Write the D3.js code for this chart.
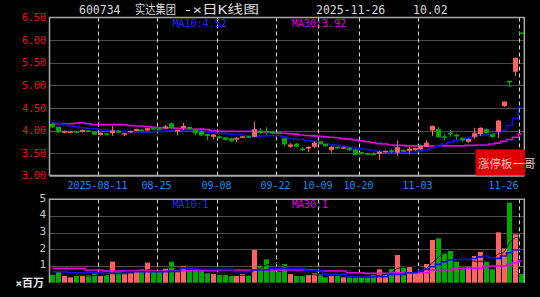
<!DOCTYPE html>
<html>
<head>
<meta charset="utf-8">
<script src="https://cdn.jsdelivr.net/npm/d3@7"></script>
<style>
html, body { margin: 0; padding: 0; background: #000; }
svg { display: block; }
text { font-family: "DejaVu Sans Mono", "Noto Sans CJK SC", monospace; }
</style>
</head>
<body>
<div id="container"></div>
<script>
// trading days shown (2025)
var days = ["07-30","07-31","08-01","08-04","08-05","08-06","08-07","08-08",
  "08-11","08-12","08-13","08-14","08-15","08-18","08-19","08-20","08-21","08-22",
  "08-25","08-26","08-27","08-28","08-29","09-01","09-02","09-03","09-04","09-05",
  "09-08","09-09","09-10","09-11","09-12","09-15","09-16","09-17","09-18","09-19",
  "09-22","09-23","09-24","09-25","09-26","09-29","09-30","10-09","10-10",
  "10-13","10-14","10-15","10-16","10-17","10-20","10-21","10-22","10-23","10-24",
  "10-27","10-28","10-29","10-30","10-31","11-03","11-04","11-05","11-06","11-07",
  "11-10","11-11","11-12","11-13","11-14","11-17","11-18","11-19","11-20","11-21",
  "11-24","11-25","11-26"];

var open = [4.15,4.08,3.95,3.95,3.98,3.97,4.00,3.97,3.90,3.94,
  3.94,4.00,3.91,3.96,3.99,4.02,4.00,4.05,4.05,4.04,
  4.16,3.98,4.05,4.08,4.01,3.99,3.92,3.86,3.87,3.85,
  3.83,3.80,3.85,3.87,3.86,4.00,3.99,3.97,3.96,3.83,
  3.64,3.71,3.60,3.60,3.64,3.76,3.70,3.57,3.64,3.60,
  3.62,3.58,3.52,3.50,3.49,3.48,3.52,3.56,3.51,3.57,
  3.55,3.57,3.58,3.64,4.00,4.03,3.87,3.95,3.91,3.83,
  3.75,3.86,3.92,4.03,3.92,3.97,4.54,5.10,5.30,6.17];
var close = [4.07,3.96,3.99,3.98,3.97,4.01,3.99,3.91,3.95,3.91,
  4.00,3.95,3.94,3.99,4.03,4.01,4.05,4.04,4.03,4.09,
  4.05,4.01,4.10,4.03,3.94,3.89,3.88,3.91,3.83,3.79,
  3.76,3.84,3.87,3.86,4.03,3.94,3.97,3.93,3.94,3.69,
  3.69,3.64,3.59,3.64,3.73,3.70,3.65,3.64,3.60,3.63,
  3.57,3.46,3.48,3.47,3.47,3.53,3.55,3.55,3.63,3.53,
  3.60,3.61,3.66,3.73,4.10,3.85,3.84,3.94,3.87,3.78,
  3.81,3.94,4.06,3.94,3.86,4.22,4.64,5.10,5.61,6.17];
var high = [4.17,4.09,4.00,3.99,3.99,4.02,4.01,3.98,3.96,3.95,
  4.10,4.01,3.95,4.00,4.04,4.03,4.06,4.06,4.06,4.12,
  4.17,4.02,4.17,4.09,4.02,4.00,3.93,3.92,3.88,3.86,
  3.84,3.85,3.88,3.88,4.19,4.05,4.07,3.99,3.97,3.84,
  3.72,3.72,3.64,3.65,3.76,3.77,3.71,3.65,3.65,3.64,
  3.63,3.59,3.53,3.51,3.52,3.55,3.56,3.59,3.78,3.58,
  3.64,3.62,3.67,3.78,4.11,4.08,3.92,4.02,3.93,3.85,
  3.82,4.06,4.07,4.05,3.94,4.24,4.64,5.10,5.61,6.17];
var low = [4.05,3.95,3.94,3.94,3.96,3.96,3.97,3.90,3.89,3.90,
  3.88,3.94,3.88,3.95,3.98,4.00,3.99,4.02,4.02,4.03,
  4.03,3.89,4.01,4.02,3.90,3.88,3.78,3.80,3.82,3.78,
  3.74,3.74,3.84,3.84,3.85,3.92,3.90,3.91,3.92,3.65,
  3.62,3.63,3.55,3.52,3.61,3.69,3.64,3.51,3.59,3.59,
  3.55,3.45,3.46,3.45,3.45,3.35,3.51,3.50,3.44,3.52,
  3.50,3.55,3.57,3.63,3.88,3.84,3.78,3.86,3.80,3.75,
  3.73,3.82,3.88,3.93,3.83,3.83,4.52,4.96,5.20,6.17];

// moving averages as drawn
var ma10 = [4.17,4.16,4.13,4.10,4.08,4.06,4.05,4.04,4.02,4.01,
  4.00,3.99,3.98,3.97,3.97,3.96,3.96,3.97,3.98,3.99,
  4.00,4.01,4.01,4.01,4.00,3.99,3.97,3.96,3.94,3.93,
  3.92,3.91,3.90,3.88,3.87,3.87,3.88,3.89,3.89,3.86,
  3.83,3.81,3.80,3.78,3.76,3.74,3.71,3.69,3.67,3.65,
  3.63,3.61,3.60,3.58,3.56,3.54,3.53,3.52,3.52,3.52,
  3.52,3.53,3.55,3.57,3.62,3.66,3.70,3.74,3.77,3.80,
  3.83,3.86,3.89,3.90,3.91,3.94,4.01,4.11,4.27,4.52];
var ma30 = [4.15,4.15,4.15,4.15,4.16,4.17,4.15,4.13,4.13,4.13,
  4.13,4.13,4.13,4.11,4.10,4.10,4.09,4.07,4.06,4.06,
  4.06,4.05,4.03,4.03,4.03,4.03,4.02,4.00,3.99,3.98,
  3.98,3.98,3.98,3.98,3.98,3.97,3.97,3.96,3.95,3.94,
  3.93,3.92,3.90,3.89,3.88,3.87,3.86,3.85,3.84,3.82,
  3.81,3.79,3.77,3.75,3.73,3.71,3.70,3.68,3.67,3.67,
  3.66,3.66,3.66,3.66,3.66,3.66,3.66,3.66,3.66,3.66,
  3.67,3.67,3.68,3.68,3.70,3.72,3.76,3.80,3.85,3.92];

// volume, millions
var volume = [0.46,0.66,0.40,0.32,0.40,0.40,0.46,0.56,0.40,0.46,
  1.26,0.66,0.56,0.56,0.76,0.80,1.20,0.70,0.70,0.86,
  1.26,0.76,1.00,0.76,0.80,0.70,0.56,0.52,0.46,0.46,
  0.40,0.40,0.52,0.42,1.96,1.00,1.40,0.76,0.66,1.12,
  0.52,0.40,0.40,0.46,0.56,0.52,0.32,0.40,0.40,0.32,
  0.32,0.32,0.32,0.32,0.46,0.80,0.46,0.82,1.66,0.90,
  0.96,0.60,0.66,1.12,2.56,2.66,1.76,1.90,1.26,0.80,
  0.92,1.60,1.84,1.26,0.80,3.02,2.06,4.80,2.90,0.52];
var volMa10 = [0.66,0.66,0.66,0.60,0.60,0.60,0.60,0.60,0.60,0.56,
  0.56,0.56,0.56,0.66,0.66,0.66,0.66,0.66,0.66,0.66,
  0.68,0.68,0.86,0.86,0.86,0.80,0.80,0.80,0.80,0.80,
  0.80,0.66,0.66,0.66,0.76,0.76,0.76,0.86,0.86,0.86,
  0.86,0.86,0.86,0.72,0.72,0.72,0.50,0.50,0.50,0.50,
  0.36,0.36,0.36,0.36,0.36,0.36,0.36,0.50,0.50,0.50,
  0.60,0.60,0.70,0.80,0.96,1.10,1.25,1.36,1.40,1.40,
  1.40,1.45,1.55,1.60,1.50,1.46,1.60,1.80,1.96,1.96];
var volMa30 = [0.86,0.86,0.86,0.86,0.86,0.86,0.76,0.76,0.76,0.70,
  0.70,0.70,0.70,0.70,0.70,0.70,0.70,0.70,0.70,0.70,
  0.70,0.70,0.72,0.72,0.72,0.72,0.72,0.72,0.76,0.76,
  0.76,0.76,0.76,0.76,0.76,0.76,0.76,0.76,0.76,0.76,
  0.76,0.76,0.76,0.76,0.76,0.70,0.70,0.70,0.70,0.70,
  0.60,0.60,0.60,0.56,0.56,0.56,0.56,0.56,0.60,0.60,
  0.60,0.60,0.60,0.60,0.76,0.76,0.76,0.76,0.86,0.86,
  0.86,0.86,0.86,1.00,1.00,1.00,1.00,1.10,1.20,1.30];

var tickDays = ["08-11","08-25","09-08","09-22","10-09","10-20","11-03","11-26"];
var tickLabels = ["2025-08-11","08-25","09-08","09-22","10-09","10-20","11-03","11-26"];
var priceTicks = [3.00,3.50,4.00,4.50,5.00,5.50,6.00,6.50];
var volTicks = [1,2,3,4,5];

var W = 540, H = 297;
var left = 49.5, right = 524.3;
var pTop = 17.5, pBot = 175.7, vTop = 199.3, vBot = 282.7;

var RED = "#ff6060", GREEN = "#00aa00", BLUE = "#1010dc", MAG = "#e000e0";
var GRID = "#9a9a9a", BORDER = "#a8a8a8";

var svg = d3.select("#container")
    .append("svg")
    .attr("width", W)
    .attr("height", H)
    .style("background", "#000");

var x = d3.scaleBand().domain(days).range([left, right]);
var bw = x.bandwidth();
function cx(d) { return x(d) + bw / 2; }
function bx(d) { return Math.round(cx(d)) + 0.5; }
function gx(d) { return Math.round(cx(d) - 2) + 0.5; }

var y = d3.scaleLinear().domain([3, 6.5]).range([pBot, pTop]);
var yv = d3.scaleLinear().domain([0, 5]).range([vBot, vTop]);

// ---- grids
function hgrid(vals, scale) {
    svg.append("g").selectAll("line")
        .data(vals).enter().append("line")
        .attr("x1", left).attr("x2", right)
        .attr("y1", function(d) { return Math.round(scale(d)) + 0.5; })
        .attr("y2", function(d) { return Math.round(scale(d)) + 0.5; })
        .attr("stroke", GRID)
        .attr("stroke-dasharray", "1,1");
}
function vgrid(y1, y2) {
    svg.append("g").selectAll("line")
        .data(tickDays).enter().append("line")
        .attr("x1", gx).attr("x2", gx)
        .attr("y1", y1).attr("y2", y2)
        .attr("stroke", "#d8d8d8")
        .attr("stroke-dasharray", "4,3");
}

hgrid([3.5, 4, 4.5, 5, 5.5, 6], y);
vgrid(pTop, pBot);

// ---- MA lines (price)
var maLine = function(arr, scale) {
    return d3.line()
        .defined(function(d) { return d != null; })
        .x(function(d, i) { return cx(days[i]); })
        .y(function(d) { return scale(d); })
        .curve(d3.curveStep)(arr);
};
svg.append("path").attr("d", maLine(ma30, y))
    .attr("fill", "none").attr("stroke", MAG).attr("stroke-width", 1.6);
svg.append("path").attr("d", maLine(ma10, y))
    .attr("fill", "none").attr("stroke", BLUE).attr("stroke-width", 1.6);

// ---- candles
function col(i) { return close[i] > open[i] ? RED : GREEN; }

var candles = svg.append("g").selectAll("g")
    .data(days).enter().append("g");

candles.append("line")
    .attr("x1", bx).attr("x2", bx)
    .attr("y1", function(d, i) { return y(high[i]); })
    .attr("y2", function(d, i) { return y(low[i]); })
    .attr("stroke", function(d, i) { return col(i); });

candles.append("rect")
    .attr("x", function(d) { return bx(d) - 2.5; })
    .attr("width", 5)
    .attr("y", function(d, i) { return y(Math.max(open[i], close[i])); })
    .attr("height", function(d, i) { return Math.max(1.5, Math.abs(y(open[i]) - y(close[i]))); })
    .attr("fill", function(d, i) { return col(i); });

// ---- price axis labels
svg.append("g").selectAll("text")
    .data(priceTicks).enter().append("text")
    .attr("x", 46)
    .attr("y", function(d) { return y(d); })
    .attr("dy", "0.36em")
    .attr("text-anchor", "end")
    .attr("fill", "#f01414")
    .style("font-size", "10px")
    .text(d3.format(".2f"));

// date labels, the last one kept inside the frame
svg.append("g").selectAll("text")
    .data(tickDays).enter().append("text")
    .attr("x", function(d) { return gx(d) - 1; })
    .attr("y", 188.5)
    .attr("text-anchor", function(d, i) { return i == tickDays.length - 1 ? "end" : "middle"; })
    .attr("fill", "#1e8ce6")
    .style("font-size", "10px")
    .text(function(d, i) { return tickLabels[i]; });

// ---- borders of price panel
svg.append("path")
    .attr("d", "M" + left + "," + pBot + "V" + pTop + "H" + right + "V" + pBot)
    .attr("fill", "none").attr("stroke", BORDER).attr("stroke-width", 1.5);
svg.append("line")
    .attr("x1", left).attr("x2", right).attr("y1", pBot).attr("y2", pBot)
    .attr("stroke", BORDER).attr("stroke-width", 2);

// ---- volume panel
hgrid([1, 2, 3, 4], yv);
vgrid(vTop, vBot);

svg.append("g").selectAll("rect")
    .data(days).enter().append("rect")
    .attr("x", function(d) { return bx(d) - 2.5; })
    .attr("width", 5)
    .attr("y", function(d, i) { return yv(volume[i]); })
    .attr("height", function(d, i) { return vBot - yv(volume[i]); })
    .attr("fill", function(d, i) { return col(i); });

// short volume average, dark, only shows on the bars
var volMa5 = volume.map(function(v, i) {
    return i < 4 ? null : d3.mean(volume.slice(i - 4, i + 1));
});
svg.append("path").attr("d", d3.line()
        .defined(function(d) { return d != null; })
        .x(function(d, i) { return cx(days[i]); })
        .y(function(d) { return yv(d); })(volMa5))
    .attr("fill", "none").attr("stroke", "#1c1c1c").attr("stroke-width", 1);

svg.append("path").attr("d", maLine(volMa30, yv))
    .attr("fill", "none").attr("stroke", MAG).attr("stroke-width", 1.6);
svg.append("path").attr("d", maLine(volMa10, yv))
    .attr("fill", "none").attr("stroke", BLUE).attr("stroke-width", 1.6);

svg.append("path")
    .attr("d", "M" + left + "," + vBot + "V" + vTop + "H" + right + "V" + vBot)
    .attr("fill", "none").attr("stroke", BORDER).attr("stroke-width", 1.5);

svg.append("g").selectAll("text")
    .data(volTicks).enter().append("text")
    .attr("x", 46)
    .attr("y", function(d) { return yv(d); })
    .attr("dy", "0.2em")
    .attr("text-anchor", "end")
    .attr("fill", "#c8c8c8")
    .style("font-size", "11px")
    .text(function(d) { return d; });

svg.append("text")
    .attr("x", 44).attr("y", 286.5)
    .attr("text-anchor", "end")
    .attr("fill", "#e8e8e8")
    .style("font-size", "11px")
    .style("font-weight", "bold")
    .text("×百万");

// ---- title and MA labels
var title = svg.append("g").attr("fill", "#dcdcdc").style("font-size", "11.5px");
title.append("text").attr("x", 79).attr("y", 13.5).text("600734");
title.append("text").attr("x", 135).attr("y", 13.5)
    .attr("textLength", 41).attr("lengthAdjust", "spacingAndGlyphs")
    .style("font-size", "12px").text("实达集团");
title.append("text").attr("x", 183).attr("y", 13.5)
    .attr("textLength", 76).attr("lengthAdjust", "spacingAndGlyphs")
    .style("font-size", "12.5px").text("-×日K线图");
title.append("text").attr("x", 316).attr("y", 13.5).text("2025-11-26");
title.append("text").attr("x", 413).attr("y", 13.5).text("10.02");

svg.append("text").attr("x", 172.5).attr("y", 26.5)
    .attr("fill", "#2424ff").style("font-size", "10px")
    .text("MA10:" + ma10[ma10.length - 1].toFixed(2));
svg.append("text").attr("x", 292).attr("y", 26.5)
    .attr("fill", MAG).style("font-size", "10px")
    .text("MA30:" + ma30[ma30.length - 1].toFixed(2));
svg.append("text").attr("x", 172.5).attr("y", 208)
    .attr("fill", "#2424ff").style("font-size", "10px")
    .text("MA10:" + Math.floor(volMa10[volMa10.length - 1]));
svg.append("text").attr("x", 292).attr("y", 208)
    .attr("fill", MAG).style("font-size", "10px")
    .text("MA30:" + Math.floor(volMa30[volMa30.length - 1]));

// ---- limit-up tag
svg.append("rect")
    .attr("x", 475.5).attr("y", 149.5)
    .attr("width", 49.5).attr("height", 26)
    .attr("fill", "#dc0000");
svg.append("text")
    .attr("x", 478).attr("y", 168)
    .attr("fill", "#f2c0c0")
    .style("font-size", "11.5px")
    .style("font-family", "'Noto Sans CJK SC'")
    .text("涨停板一哥");
</script>
</body>
</html>
